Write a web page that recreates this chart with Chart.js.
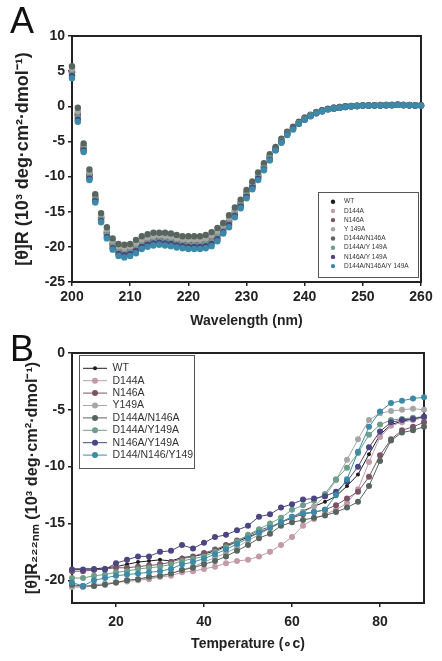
<!DOCTYPE html>
<html>
<head>
<meta charset="utf-8">
<script src="https://cdn.jsdelivr.net/npm/chart.js@4.4.0/dist/chart.umd.min.js"></script>
<style>
    body { margin: 0; background: #fff; width: 442px; height: 661px; position: relative; overflow: hidden; font-family: 'Liberation Sans', Arial, sans-serif; }
    .panel { position: absolute; left: 0; width: 442px; }
    #boxA { top: 0; height: 330px; }
    #boxB { top: 330px; height: 331px; }
    .tag { position: absolute; left: 10px; font-size: 36px; line-height: 36px; color: #111; }
</style>
</head>
<body>
<div class="panel" id="boxA"><canvas id="cdChart" width="442" height="330"></canvas></div>
<div class="panel" id="boxB"><canvas id="meltChart" width="442" height="331"></canvas></div>
<div class="tag" style="top:3px">A</div>
<div class="tag" style="top:331px">B</div>
<script>
// ---- panel A : CD spectra ----
const wavelengths = [200, 201, 202, 203, 204, 205, 206, 207, 208, 209,
    210, 211, 212, 213, 214, 215, 216, 217, 218, 219,
    220, 221, 222, 223, 224, 225, 226, 227, 228, 229,
    230, 231, 232, 233, 234, 235, 236, 237, 238, 239,
    240, 241, 242, 243, 244, 245, 246, 247, 248, 249,
    250, 251, 252, 253, 254, 255, 256, 257, 258, 259, 260];

const specWT = [4.8, -1.3, -6.0, -9.8, -13.2, -15.9, -18.1, -19.7, -20.5, -20.7,
    -20.5, -20.0, -19.5, -19.2, -19.0, -18.9, -19.0, -19.1, -19.3, -19.4,
    -19.5, -19.5, -19.5, -19.3, -19.0, -18.3, -17.4, -16.4, -15.2, -14.0,
    -12.6, -11.3, -10.0, -8.7, -7.3, -6.1, -4.9, -3.9, -3.1, -2.4,
    -1.8, -1.3, -0.9, -0.6, -0.4, -0.3, -0.2, -0.05, 0.0, 0.05,
    0.1, 0.1, 0.15, 0.15, 0.15, 0.2, 0.2, 0.2, 0.15, 0.1, 0.1];
const specD144A = [5.1, -0.9, -5.7, -9.5, -12.9, -15.7, -17.8, -19.4, -20.2, -20.3,
    -20.2, -19.7, -19.1, -18.8, -18.6, -18.6, -18.6, -18.7, -18.9, -19.1,
    -19.1, -19.1, -19.1, -19.0, -18.6, -18.0, -17.1, -16.1, -14.9, -13.7,
    -12.3, -11.1, -9.8, -8.5, -7.1, -6.0, -4.8, -3.8, -3.0, -2.3,
    -1.7, -1.3, -0.9, -0.6, -0.4, -0.2, -0.1, 0.0, 0.0, 0.1,
    0.1, 0.15, 0.15, 0.15, 0.2, 0.2, 0.2, 0.2, 0.15, 0.15, 0.1];
const specN146A = [4.9, -1.1, -5.8, -9.7, -13.0, -15.8, -17.9, -19.5, -20.4, -20.5,
    -20.4, -19.9, -19.3, -19.0, -18.8, -18.8, -18.8, -18.9, -19.1, -19.3,
    -19.3, -19.3, -19.3, -19.2, -18.8, -18.2, -17.3, -16.3, -15.0, -13.8,
    -12.4, -11.2, -9.9, -8.6, -7.2, -6.0, -4.9, -3.8, -3.1, -2.3,
    -1.7, -1.3, -0.9, -0.6, -0.4, -0.2, -0.2, -0.05, 0.0, 0.05,
    0.1, 0.1, 0.15, 0.15, 0.2, 0.2, 0.2, 0.2, 0.15, 0.15, 0.1];
const specY149A = [5.3, -0.7, -5.6, -9.4, -12.8, -15.5, -17.6, -19.2, -20.0, -20.2,
    -20.0, -19.5, -19.0, -18.7, -18.5, -18.4, -18.5, -18.6, -18.8, -18.9,
    -19.0, -19.0, -19.0, -18.8, -18.4, -17.8, -17.0, -15.9, -14.8, -13.6,
    -12.2, -11.0, -9.7, -8.4, -7.0, -5.9, -4.8, -3.7, -3.0, -2.3,
    -1.7, -1.3, -0.8, -0.6, -0.4, -0.2, -0.1, 0.0, 0.05, 0.1,
    0.15, 0.15, 0.15, 0.2, 0.2, 0.2, 0.25, 0.2, 0.2, 0.15, 0.15];
const specD144AN146A = [5.7, -0.2, -5.3, -9.0, -12.5, -15.2, -17.2, -18.8, -19.6, -19.7,
    -19.6, -19.0, -18.5, -18.2, -18.0, -18.0, -18.0, -18.1, -18.3, -18.5,
    -18.5, -18.5, -18.5, -18.3, -17.9, -17.3, -16.6, -15.5, -14.4, -13.3,
    -11.9, -10.7, -9.4, -8.1, -6.8, -5.8, -4.6, -3.6, -2.9, -2.2,
    -1.6, -1.2, -0.8, -0.55, -0.35, -0.2, -0.1, 0.0, 0.05, 0.1,
    0.15, 0.15, 0.15, 0.2, 0.2, 0.2, 0.25, 0.2, 0.2, 0.15, 0.15];
const specD144AY149A = [4.5, -1.6, -6.1, -10.1, -13.3, -16.1, -18.3, -19.9, -20.8, -21.0,
    -20.8, -20.3, -19.8, -19.5, -19.3, -19.2, -19.3, -19.4, -19.6, -19.7,
    -19.8, -19.8, -19.8, -19.6, -19.3, -18.6, -17.7, -16.7, -15.4, -14.1,
    -12.7, -11.5, -10.2, -8.8, -7.4, -6.2, -5.0, -3.9, -3.2, -2.4,
    -1.8, -1.3, -0.9, -0.7, -0.4, -0.3, -0.2, -0.1, 0.0, 0.05,
    0.1, 0.1, 0.1, 0.15, 0.15, 0.15, 0.2, 0.15, 0.15, 0.1, 0.1];
const specN146AY149A = [4.3, -1.9, -6.3, -10.3, -13.5, -16.3, -18.6, -20.2, -21.0, -21.2,
    -21.0, -20.6, -20.0, -19.7, -19.5, -19.4, -19.5, -19.6, -19.8, -19.9,
    -20.0, -20.0, -20.0, -19.9, -19.6, -18.9, -17.9, -16.9, -15.6, -14.3,
    -12.9, -11.6, -10.3, -9.0, -7.6, -6.2, -5.1, -4.0, -3.2, -2.5,
    -1.9, -1.4, -1.0, -0.7, -0.4, -0.3, -0.2, -0.1, 0.0, 0.05,
    0.1, 0.1, 0.1, 0.1, 0.15, 0.15, 0.2, 0.15, 0.15, 0.1, 0.1];
const specTriple = [4.0, -2.2, -6.5, -10.5, -13.7, -16.5, -18.8, -20.4, -21.3, -21.5,
    -21.3, -20.9, -20.3, -20.0, -19.8, -19.7, -19.8, -19.9, -20.1, -20.2,
    -20.3, -20.3, -20.3, -20.2, -19.9, -19.2, -18.1, -17.2, -15.8, -14.5,
    -13.1, -11.8, -10.5, -9.1, -7.7, -6.3, -5.2, -4.1, -3.3, -2.5,
    -1.9, -1.4, -1.0, -0.7, -0.45, -0.3, -0.2, -0.1, 0.0, 0.05,
    0.1, 0.1, 0.1, 0.1, 0.15, 0.15, 0.2, 0.15, 0.15, 0.1, 0.1];

const wlTicks = [200, 210, 220, 230, 240, 250, 260];
const cdTicks = [10, 5, 0, -5, -10, -15, -20, -25];
const namesA = ['WT', 'D144A', 'N146A', 'Y 149A', 'D144A/N146A', 'D144A/Y 149A', 'N146A/Y 149A', 'D144A/N146A/Y 149A'];

// ---- panel B : thermal melts at 222 nm ----
const temps = [10, 12.5, 15, 17.5, 20, 22.5, 25, 27.5, 30, 32.5, 35, 37.5, 40, 42.5, 45, 47.5, 50,
    52.5, 55, 57.5, 60, 62.5, 65, 67.5, 70, 72.5, 75, 77.5, 80, 82.5, 85, 87.5, 90];

const meltWT = [-19.0, -19.0, -19.0, -18.9, -18.8, -18.6, -18.4, -18.3, -18.2, -18.3, -18.0,
    -17.9, -17.7, -17.4, -17.0, -16.6, -16.2, -15.8, -15.4, -14.9, -14.5, -13.9,
    -13.5, -13.1, -12.6, -11.7, -10.7, -8.9, -7.2, -6.3, -6.0, -5.8, -5.6];
const meltD144A = [-20.5, -20.6, -20.4, -20.3, -20.2, -20.1, -20.0, -19.9, -19.7, -19.6, -19.3,
    -19.2, -19.0, -18.8, -18.5, -18.3, -18.2, -17.9, -17.5, -16.9, -16.2, -15.2,
    -14.6, -14.2, -13.8, -13.2, -12.0, -9.6, -7.4, -6.4, -6.1, -5.9, -5.7];
const meltN146A = [-19.2, -19.2, -19.1, -19.0, -18.9, -18.9, -18.8, -18.7, -18.6, -18.4, -18.1,
    -17.9, -17.6, -17.3, -16.9, -16.5, -16.1, -15.6, -15.3, -14.9, -14.5, -14.2,
    -14.0, -13.8, -13.4, -12.8, -12.2, -10.9, -9.0, -7.6, -6.8, -6.5, -6.1];
const meltY149A = [-20.6, -20.6, -20.5, -20.3, -20.2, -20.0, -19.9, -19.8, -19.7, -19.4, -19.1,
    -18.8, -18.4, -18.0, -17.6, -17.1, -16.5, -16.0, -15.4, -14.9, -14.4, -14.0,
    -13.5, -12.6, -11.2, -9.4, -7.6, -5.9, -5.3, -5.1, -5.0, -4.9, -5.0];
const meltD144AN146A = [-20.4, -20.5, -20.5, -20.4, -20.2, -20.0, -19.9, -19.7, -19.6, -19.4, -19.1,
    -18.9, -18.6, -18.3, -17.9, -17.4, -16.9, -16.3, -15.9, -15.2, -14.9, -14.7,
    -14.5, -14.3, -14.0, -13.6, -13.1, -11.7, -9.5, -7.7, -7.0, -6.8, -6.5];
const meltD144AY149A = [-19.8, -19.8, -19.6, -19.5, -19.3, -19.2, -19.0, -18.9, -18.8, -18.6, -18.3,
    -18.1, -17.9, -17.5, -17.1, -16.6, -16.0, -15.5, -15.0, -14.5, -13.8, -13.4,
    -13.0, -12.4, -11.1, -10.1, -8.8, -7.2, -6.3, -5.9, -5.8, -5.7, -5.6];
const meltN146AY149A = [-19.05, -19.05, -19.0, -19.05, -18.5, -18.2, -17.9, -17.9, -17.5, -17.4, -16.9,
    -17.2, -16.7, -16.2, -16.0, -15.6, -15.2, -14.4, -14.2, -13.6, -13.3, -12.9,
    -12.8, -12.6, -12.2, -11.3, -10.0, -8.3, -6.9, -6.1, -5.9, -5.8, -5.6];
const meltTriple = [-20.2, -20.5, -20.0, -19.8, -19.6, -19.5, -19.4, -19.3, -19.2, -19.0, -18.6,
    -18.4, -18.1, -17.7, -17.3, -16.8, -16.3, -15.8, -15.4, -14.9, -14.4, -14.1,
    -14.0, -13.8, -12.5, -11.1, -8.7, -6.5, -5.15, -4.4, -4.2, -4.0, -3.9];

const tempTicks = [20, 40, 60, 80];
const meltTicks = [0, -5, -10, -15, -20];
const namesB = ['WT', 'D144A', 'N146A', 'Y149A', 'D144A/N146A', 'D144A/Y149A', 'N146A/Y149A', 'D144/N146/Y149'];

const colors = ['#1c1c1c', '#c39aa9', '#7a5466', '#a6a6a6', '#58645e', '#6e9e89', '#4b4582', '#3c8aa7'];

const FONT = "'Liberation Sans', Arial, sans-serif";
const INK = '#222';

// box round the plot area
const frame = {
    id: 'frame',
    beforeDatasetsDraw(chart) {
        const { ctx, chartArea: a } = chart;
        ctx.save();
        ctx.strokeStyle = INK;
        ctx.lineWidth = 2;
        ctx.strokeRect(a.left, a.top, a.right - a.left, a.bottom - a.top);
        ctx.restore();
    }
};

// legend drawn inside the plot with a border
const boxLegend = {
    id: 'boxLegend',
    afterDatasetsDraw(chart, args, o) {
        const ctx = chart.ctx;
        ctx.save();
        ctx.fillStyle = '#fff';
        ctx.fillRect(o.x, o.y, o.w, o.h);
        ctx.strokeStyle = '#555';
        ctx.lineWidth = 1;
        ctx.strokeRect(o.x + 0.5, o.y + 0.5, o.w, o.h);
        ctx.font = o.size + 'px ' + FONT;
        ctx.textBaseline = 'middle';
        chart.data.datasets.forEach((ds, i) => {
            const cy = o.y + o.first + i * o.gap;
            if (o.line) {
                ctx.strokeStyle = ds.borderColor;
                ctx.lineWidth = 1;
                ctx.beginPath();
                ctx.moveTo(o.x + o.lineFrom, cy);
                ctx.lineTo(o.x + o.lineTo, cy);
                ctx.stroke();
            }
            ctx.fillStyle = ds.pointBackgroundColor;
            ctx.beginPath();
            ctx.arc(o.x + o.dotX, cy, o.dot || ds.pointRadius, 0, Math.PI * 2);
            ctx.fill();
            ctx.fillStyle = '#333';
            ctx.fillText(ds.label, o.x + o.textX, cy);
        });
        ctx.restore();
    }
};

function axis(min, max, tickList, title, titleSize, titlePad, tickPad, forced, horizontal) {
    return {
        type: 'linear',
        min: min,
        max: max,
        afterBuildTicks: s => { s.ticks = tickList.map(v => ({ value: v })); },
        afterFit: s => { if (horizontal) s.height = forced; else s.width = forced; },
        grid: { drawOnChartArea: false, tickLength: 4, color: INK, lineWidth: 1.5 },
        border: { display: true, color: INK, width: 2 },
        ticks: { color: INK, padding: tickPad, maxRotation: 0, font: { family: FONT, size: 14, weight: 'bold' } },
        title: { display: true, text: title, color: INK, padding: titlePad, font: { family: FONT, size: titleSize, weight: 'bold' } }
    };
}

// ---- chart A ----
const seriesA = [specWT, specD144A, specN146A, specY149A, specD144AN146A, specD144AY149A, specN146AY149A, specTriple];
new Chart(document.getElementById('cdChart'), {
    type: 'line',
    data: {
        datasets: seriesA.map((s, i) => ({
            label: namesA[i],
            data: wavelengths.map((w, j) => ({ x: w, y: s[j] })),
            order: -i,
            showLine: false,
            borderColor: colors[i],
            pointBackgroundColor: colors[i],
            pointBorderWidth: 0,
            pointRadius: 3.2,
            clip: false
        }))
    },
    options: {
        responsive: false,
        animation: false,
        layout: { padding: { top: 36, right: 21, left: 0, bottom: 0 } },
        plugins: {
            legend: { display: false },
            tooltip: { enabled: false },
            boxLegend: { x: 318, y: 192, w: 100, h: 85, first: 9.7, gap: 9.2, dotX: 15, dot: 2.2, textX: 26, size: 6.5, line: false }
        },
        scales: {
            x: axis(200, 260, wlTicks, 'Wavelength (nm)', 14, { top: 0, bottom: 0 }, 3, 48, true),
            y: axis(-25, 10, cdTicks, '[θ]R (10³ deg·cm²·dmol⁻¹)', 18, { top: 12, bottom: 0 }, 3, 72, false)
        }
    },
    plugins: [frame, boxLegend]
});

// ---- chart B ----
const seriesB = [meltWT, meltD144A, meltN146A, meltY149A, meltD144AN146A, meltD144AY149A, meltN146AY149A, meltTriple];
new Chart(document.getElementById('meltChart'), {
    type: 'line',
    data: {
        datasets: seriesB.map((s, i) => ({
            label: namesB[i],
            data: temps.map((t, j) => ({ x: t, y: s[j] })),
            order: -i,
            borderColor: colors[i],
            borderWidth: 1,
            tension: 0,
            pointBackgroundColor: colors[i],
            pointBorderWidth: 0,
            pointRadius: i === 0 ? 2 : 3,
            clip: false
        }))
    },
    options: {
        responsive: false,
        animation: false,
        layout: { padding: { top: 23, right: 18, left: 0, bottom: 0 } },
        plugins: {
            legend: { display: false },
            tooltip: { enabled: false },
            boxLegend: { x: 79, y: 25, w: 115, h: 113, first: 13.3, gap: 12.4, lineFrom: 4, lineTo: 28, dotX: 16, textX: 33.5, size: 10.5, line: true }
        },
        scales: {
            x: axis(10, 90, tempTicks, 'Temperature (∘c)', 14, { top: 0, bottom: 8 }, 7, 58, true),
            y: axis(-22, 0, meltTicks, '[θ]R₂₂₂ₙₘ (10³ deg·cm²·dmol⁻¹)', 16.3, { top: 23, bottom: 0 }, 3, 72, false)
        }
    },
    plugins: [frame, boxLegend]
});
</script>
</body>
</html>
